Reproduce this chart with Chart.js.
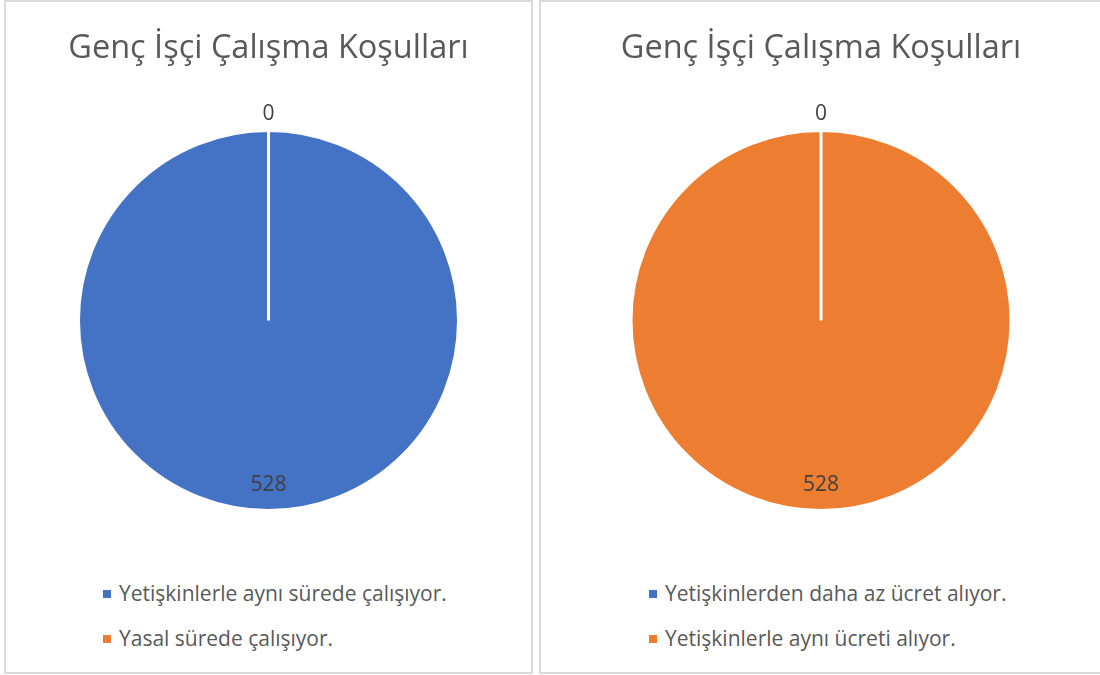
<!DOCTYPE html>
<html lang="tr">
<head>
<meta charset="utf-8">
<script src="https://cdn.jsdelivr.net/npm/chart.js@4.4.1/dist/chart.umd.min.js"></script>
<style>
  html, body { margin: 0; padding: 0; background: #fff; }
  body { width: 1100px; height: 675px; position: relative; overflow: hidden; font-family: 'Open Sans', sans-serif; }
  .panel { position: absolute; top: 0; height: 674px; box-sizing: border-box; border: 2px solid #dadada; background: #fff; }
  #panelLeft { left: 4px; width: 529px; }
  #panelRight { left: 539px; width: 564px; }
  .panel canvas { position: absolute; left: 0; top: 0; }
  .legend { position: absolute; left: 0; top: 575px; margin: 0; padding: 0; list-style: none; color: #595959; font-size: 21px; }
  .legend li { height: 45px; line-height: 32px; white-space: nowrap; }
  .legend span.box { display: inline-block; width: 8px; height: 8px; margin-right: 8px; vertical-align: 3px; }
</style>
</head>
<body>
<div class="panel" id="panelLeft">
  <canvas id="chartLeft"></canvas>
  <ul class="legend" id="legendLeft" style="left:97px"></ul>
</div>
<div class="panel" id="panelRight">
  <canvas id="chartRight"></canvas>
  <ul class="legend" id="legendRight" style="left:108px"></ul>
</div>
<script>
const chartTitle = 'Genç İşçi Çalışma Koşulları';

// sol grafik: çalışma süresi
const hoursLabels = ['Yetişkinlerle aynı sürede çalışıyor.', 'Yasal sürede çalışıyor.'];
const hoursValues = [528, 0];

// sağ grafik: ücret
const wageLabels = ['Yetişkinlerden daha az ücret alıyor.', 'Yetişkinlerle aynı ücreti alıyor.'];
const wageValues = [0, 528];

const colors = ['#4472C4', '#ED7D31'];

// Excel tarzı veri etiketleri: 0 dilimin dışında, diğerleri içeride alt tarafta
const pieLabelsPlugin = {
  id: 'pieLabels',
  afterDatasetsDraw(chart) {
    const { ctx } = chart;
    const meta = chart.getDatasetMeta(0);
    const values = chart.data.datasets[0].data;
    ctx.save();
    ctx.font = '21px "Open Sans", sans-serif';
    ctx.fillStyle = '#404040';
    ctx.textAlign = 'center';
    ctx.textBaseline = 'middle';
    meta.data.forEach((arc, i) => {
      const { x, y, startAngle, endAngle, outerRadius } = arc.getProps(['x', 'y', 'startAngle', 'endAngle', 'outerRadius'], true);
      const v = values[i];
      let angle, r;
      if (v === 0) {
        angle = startAngle;
        r = outerRadius + 16;
      } else {
        angle = (startAngle + endAngle) / 2;
        r = outerRadius - 25;
      }
      ctx.fillText(String(v), x + Math.cos(angle) * r, y + Math.sin(angle) * r);
    });
    ctx.restore();
  },
};

function buildLegend(chart, el) {
  const ds = chart.data.datasets[0];
  el.innerHTML = chart.data.labels
    .map((label, i) => `<li><span class="box" style="background:${ds.backgroundColor[i]}"></span>${label}</li>`)
    .join('');
}

function makePie(canvasId, legendId, width, labels, values) {
  const canvas = document.getElementById(canvasId);
  canvas.width = width;
  canvas.height = 510;
  canvas.style.width = width + 'px';
  canvas.style.height = '510px';

  const chart = new Chart(canvas.getContext('2d'), {
    type: 'pie',
    data: {
      labels: labels,
      datasets: [{
        data: values,
        backgroundColor: colors,
        borderColor: '#ffffff',
        borderWidth: 3,
      }],
    },
    options: {
      responsive: false,
      animation: false,
      layout: { padding: 0 },
      plugins: {
        legend: { display: false },
        tooltip: { enabled: false },
        title: {
          display: true,
          text: chartTitle,
          color: '#595959',
          font: { family: '"Open Sans", sans-serif', size: 32.5, weight: 'normal', lineHeight: 1.2 },
          padding: { top: 27, bottom: 61 },
        },
      },
    },
    plugins: [pieLabelsPlugin],
  });
  buildLegend(chart, document.getElementById(legendId));
  return chart;
}

makePie('chartLeft', 'legendLeft', 525, hoursLabels, hoursValues);
makePie('chartRight', 'legendRight', 560, wageLabels, wageValues);
</script>
</body>
</html>
